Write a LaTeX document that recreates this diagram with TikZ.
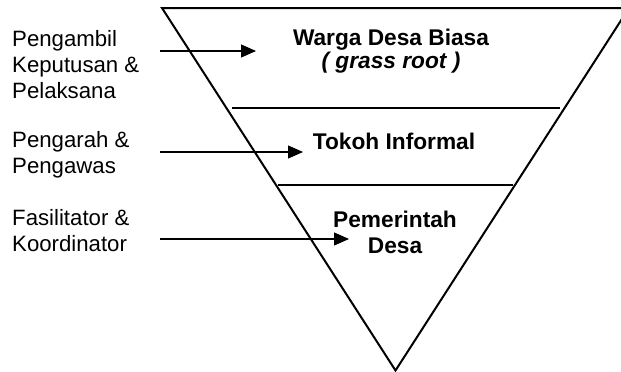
\documentclass[tikz,border=0pt]{standalone}
\usepackage{fontspec}
\setmainfont{Liberation Sans}
\usetikzlibrary{arrows.meta}
\begin{document}
\begin{tikzpicture}[x=1pt,y=-1pt,
  role/.style={anchor=base west,inner sep=0pt,align=left,
    font=\fontsize{22.2}{26}\selectfont},
  level/.style={anchor=base,inner sep=0pt,align=center,
    font=\fontsize{22.7}{26}\selectfont\bfseries},
  edge/.style={line width=2pt},
  divider/.style={line width=2.2pt},
  pointer/.style={line width=1.1pt,-{Triangle[length=15pt,width=13pt]}}]
\useasboundingbox (0,0) rectangle (621,372);
\clip (0,0) rectangle (621,372);

% inverted pyramid
\coordinate (tl) at (162,8);
\coordinate (tr) at (629,8);
\coordinate (apex) at (395.5,370.5);
\draw[edge,line join=miter] (tl) -- (tr) -- (apex) -- cycle;

% level dividers
\draw[divider] (232,108) -- (560,108);
\draw[divider] (278,185) -- (513,185);

% level labels (anchored on the baseline of their last line)
\node[level] (warga) at (391,68) {Warga Desa Biasa\\[-3pt]\itshape ( grass root )};
\node[level] (tokoh) at (394,149) {Tokoh Informal};
\node[level] (pemdes) at (395,253) {Pemerintah\\Desa};

% role labels (anchored on the baseline of their last line)
\node[role] (r1) at (12,98) {Pengambil\\Keputusan \&\\Pelaksana};
\node[role] (r2) at (12,173) {Pengarah \&\\Pengawas};
\node[role] (r3) at (12,251) {Fasilitator \&\\Koordinator};

% pointers
\coordinate (s1) at (160,51);  \coordinate (e1) at (256,51);
\coordinate (s2) at (160,152); \coordinate (e2) at (303,152);
\coordinate (s3) at (160,239); \coordinate (e3) at (349,239);
\draw[pointer] (s1) -- (e1);
\draw[pointer] (s2) -- (e2);
\draw[pointer] (s3) -- (e3);
\end{tikzpicture}
\end{document}
